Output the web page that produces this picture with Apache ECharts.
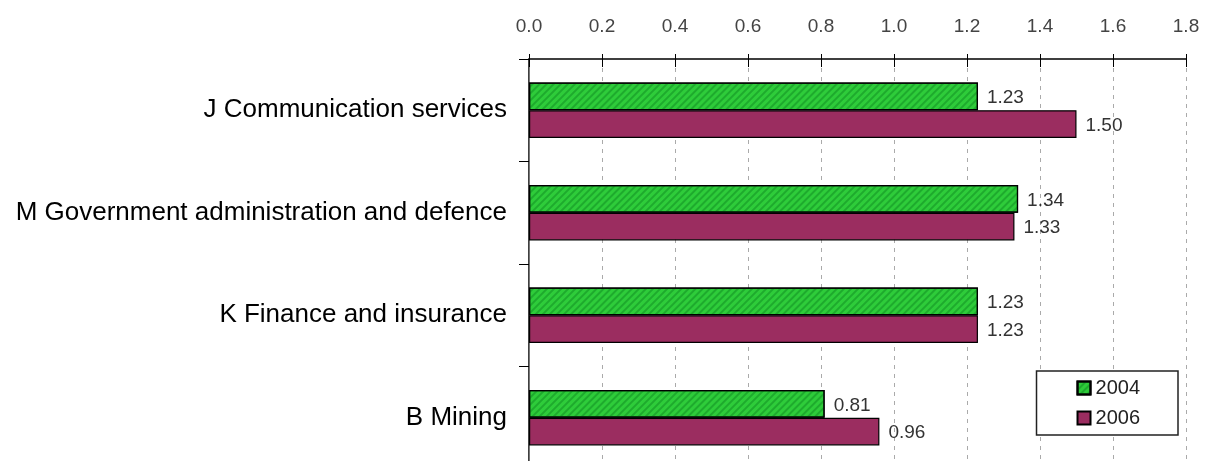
<!DOCTYPE html>
<html><head><meta charset="utf-8">
<script src="https://cdn.jsdelivr.net/npm/echarts@6/dist/echarts.min.js"></script>
<style>html,body{margin:0;padding:0;background:#fff;overflow:hidden}#c{width:1213px;height:480px}</style>
</head><body><div id="c"></div>
<script>
const categories = ['J Communication services','M Government administration and defence','K Finance and insurance','B Mining'];
const values2004 = [1.23, 1.34, 1.23, 0.81];
const values2006 = [1.50, 1.33, 1.23, 0.96];
const seriesNames = ['2004','2006'];

const chart = echarts.init(document.getElementById('c'));
const labelStyle = {show:true, position:'right', distance:9, color:'#333', fontFamily:'Liberation Sans', fontSize:19, offset:[0,1.5], formatter:p=>p.value.toFixed(2)};
chart.setOption({
  animation:false,
  grid:{left:529, right:27, top:59, height:410, containLabel:false},
  legend:{
    orient:'vertical', right:35, top:371,
    data:seriesNames, itemWidth:13, itemHeight:13, itemGap:10,
    padding:[7,38,7,40],
    borderColor:'#222', borderWidth:1.5, backgroundColor:'#fff',
    textStyle:{fontFamily:'Liberation Sans', fontSize:20, color:'#222', lineHeight:20},
    icon:'rect'
  },
  xAxis:[{type:'value', position:'top', min:0, max:1.8, interval:0.2,
    axisLine:{show:true, lineStyle:{color:'#000', width:1.5}},
    axisTick:{show:true, length:5, lineStyle:{color:'#000'}},
    axisLabel:{color:'#444', fontFamily:'Liberation Sans', fontSize:19, margin:23, formatter:v=>v.toFixed(1)},
    splitLine:{show:true, lineStyle:{color:'#aaa', type:[4,5], width:1}}
  },{type:'value', position:'top', min:0, max:1.8, interval:0.2,
    axisLine:{show:false}, axisLabel:{show:false}, splitLine:{show:false},
    axisTick:{show:true, inside:true, length:8, lineStyle:{color:'#000'}}
  }],
  yAxis:[{type:'category', inverse:true, data:categories,
    axisLine:{show:true, lineStyle:{color:'#000', width:1.5}},
    axisTick:{show:true, length:10, lineStyle:{color:'#000'}},
    axisLabel:{color:'#000', fontFamily:'Liberation Sans', fontSize:26, margin:22}
  },{type:'category', inverse:true, data:categories, position:'right',
    axisLine:{show:true, lineStyle:{color:'#777', width:1}},
    axisTick:{show:false}, axisLabel:{show:false}
  }],
  series:[{
    name:seriesNames[0], type:'bar', data:values2004, barGap:'0%', barCategoryGap:'46%',
    itemStyle:{color:'#2ecc3a', borderColor:'#000', borderWidth:1.2,
      decal:{symbol:'rect', dashArrayX:[1,0], dashArrayY:[1.5,2.5], rotation:-Math.PI/4, color:'rgba(0,110,20,0.35)'}},
    label:labelStyle
  },{
    name:seriesNames[1], type:'bar', data:values2006, barGap:'0%', barCategoryGap:'46%',
    itemStyle:{color:'#9b2d60', borderColor:'#000', borderWidth:1.2},
    label:labelStyle
  }]
});
</script></body></html>
